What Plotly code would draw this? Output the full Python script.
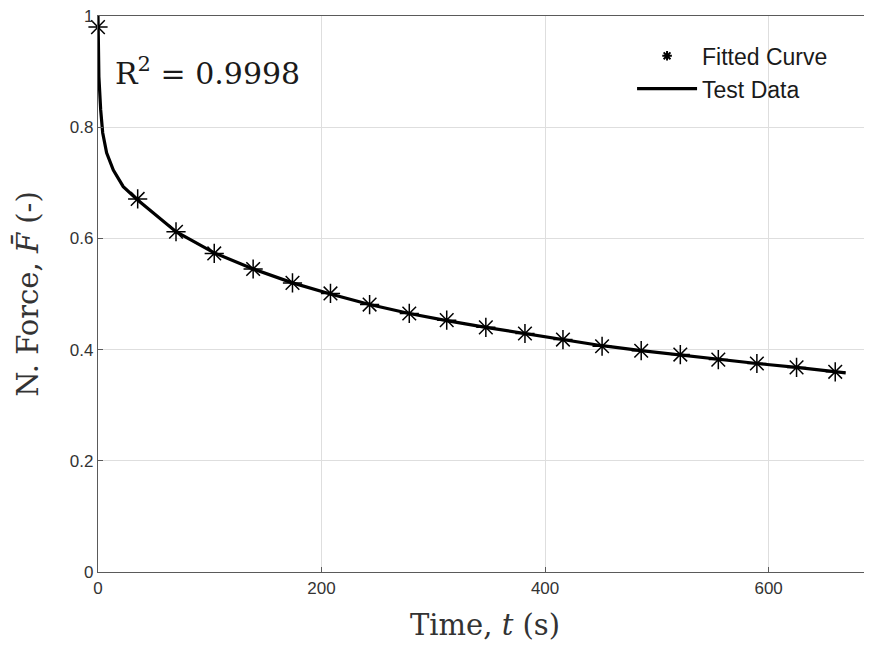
import plotly.graph_objects as go

# Fitted curve (asterisk markers)
fit_t = [0, 35.5, 69.8, 104, 138.8, 174, 208, 243, 278.5, 312, 347, 382, 416, 451, 486, 521, 555, 589.5, 625, 659.6]
fit_F = [0.980, 0.671, 0.612, 0.573, 0.545, 0.520, 0.501, 0.481, 0.465, 0.453, 0.440, 0.429, 0.418, 0.406, 0.398, 0.391, 0.382, 0.375, 0.368, 0.360]

# Test data (solid line)
test_t = [0, 0.8, 2.4, 4.2, 7.7, 13.7, 22.6, 35.5, 69.8, 104, 138.8, 174, 208, 243, 278.5, 312, 347, 382, 416, 451, 486, 521, 555, 589.5, 625, 659.6, 669]
test_F = [1.0, 0.891, 0.831, 0.790, 0.754, 0.723, 0.693, 0.669, 0.612, 0.574, 0.545, 0.520, 0.500, 0.481, 0.465, 0.452, 0.440, 0.429, 0.418, 0.407, 0.398, 0.390, 0.382, 0.375, 0.368, 0.361, 0.358]

x_ticks = [0, 200, 400, 600]
y_ticks = [0, 0.2, 0.4, 0.6, 0.8, 1]
y_tick_labels = ["0", "0.2", "0.4", "0.6", "0.8", "1"]

SERIF = "DejaVu Serif, Liberation Serif, serif"
SANS = "Liberation Sans, Arial, sans-serif"

fig = go.Figure()
fig.add_trace(go.Scatter(x=test_t, y=test_F, mode="lines", line=dict(color="black", width=3.2),
                         showlegend=False, hoverinfo="skip"))
fig.add_trace(go.Scatter(x=fit_t, y=fit_F, mode="markers", cliponaxis=False,
                         marker=dict(symbol="asterisk-open", size=16, color="black",
                                     line=dict(color="black", width=1.5)),
                         showlegend=False))
# legend entries
fig.add_trace(go.Scatter(x=[None], y=[None], mode="markers", name="Fitted Curve",
                         marker=dict(symbol="asterisk-open", size=8, color="black",
                                     line=dict(color="black", width=2))))
fig.add_trace(go.Scatter(x=[None], y=[None], mode="lines", name="Test Data",
                         line=dict(color="black", width=3.2)))

fig.add_annotation(x=0.019, y=0.9, xref="paper", yref="paper", xanchor="left", yanchor="middle",
                   text="R<sup>2</sup> = 0.9998", showarrow=False,
                   font=dict(family=SERIF, size=30, color="#1a1a1a"))

axis_common = dict(showline=True, linecolor="#5a5a5a", linewidth=1.2, ticks="inside", ticklen=5,
                   tickcolor="#5a5a5a", showgrid=True, gridcolor="#dedede", gridwidth=1,
                   zeroline=False, automargin=False, ticklabeloverflow="allow",
                   tickfont=dict(family=SANS, size=17, color="#333333"))

fig.update_xaxes(range=[0, 692.5], tickvals=x_ticks, mirror=True,
                 title=dict(text="Time, <i>t</i> (s)", standoff=18,
                            font=dict(family=SERIF, size=29, color="#333333")),
                 **axis_common)
fig.update_yaxes(range=[0, 1], tickvals=y_ticks, ticktext=y_tick_labels,
                 title=dict(text="N. Force, <i>F\u0304</i> (-)", standoff=22,
                            font=dict(family=SERIF, size=29, color="#333333")),
                 **axis_common)

fig.update_layout(width=864, height=638, margin=dict(l=90, r=0, t=8, b=74, autoexpand=False),
                  paper_bgcolor="white", plot_bgcolor="white",
                  legend=dict(x=0.69, y=0.967, xanchor="left", yanchor="top", bgcolor="rgba(0,0,0,0)",
                              font=dict(family=SANS, size=23, color="#1a1a1a"),
                              itemwidth=60, tracegroupgap=0))

fig.write_html("out.html")
